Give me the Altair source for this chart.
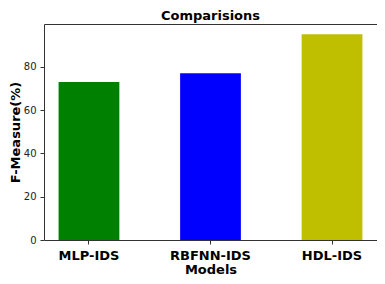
import altair as alt
import pandas as pd

models = ["MLP-IDS", "RBFNN-IDS", "HDL-IDS"]
fmeasure = [73, 77, 95]
colors = ["#008000", "#0000ff", "#bfbf00"]
y_ticks = [0, 20, 40, 60, 80]

df = pd.DataFrame({"model": models, "value": fmeasure})

chart = alt.Chart(df).mark_bar().encode(
    x=alt.X("model:N", sort=models,
            scale=alt.Scale(paddingInner=0.5, paddingOuter=0.12),
            axis=alt.Axis(title="Models", labelAngle=0, labelFontWeight="bold",
                          labelFontSize=13, labelColor="#000", titleFontSize=13,
                          titleFontWeight="bold", titleColor="#000", titlePadding=1,
                          labelPadding=5, tickSize=4, tickColor="#333",
                          domain=False, labelFont="DejaVu Sans", titleFont="DejaVu Sans")),
    y=alt.Y("value:Q", scale=alt.Scale(domain=[0, 99.75], nice=False, zero=True),
            axis=alt.Axis(title="F-Measure(%)", values=y_ticks, grid=False,
                          labelFontSize=10, labelColor="#222", titleFontSize=13,
                          titleFontWeight="bold", titleColor="#000", tickSize=4,
                          tickColor="#333", labelPadding=4, titlePadding=1,
                          domain=False, labelFont="DejaVu Sans", titleFont="DejaVu Sans")),
    color=alt.Color("model:N", sort=models,
                    scale=alt.Scale(domain=models, range=colors), legend=None),
).properties(
    width=333, height=216,
    title=alt.TitleParams("Comparisions", fontSize=13, fontWeight="bold",
                          font="DejaVu Sans", color="#000", offset=1),
    autosize=alt.AutoSizeParams(type="none"),
    padding={"left": 36, "top": 16, "right": 0, "bottom": 36},
).configure_view(stroke="#333", strokeWidth=1)

chart.save("out.html", embed_options={"renderer": "svg", "actions": False})
